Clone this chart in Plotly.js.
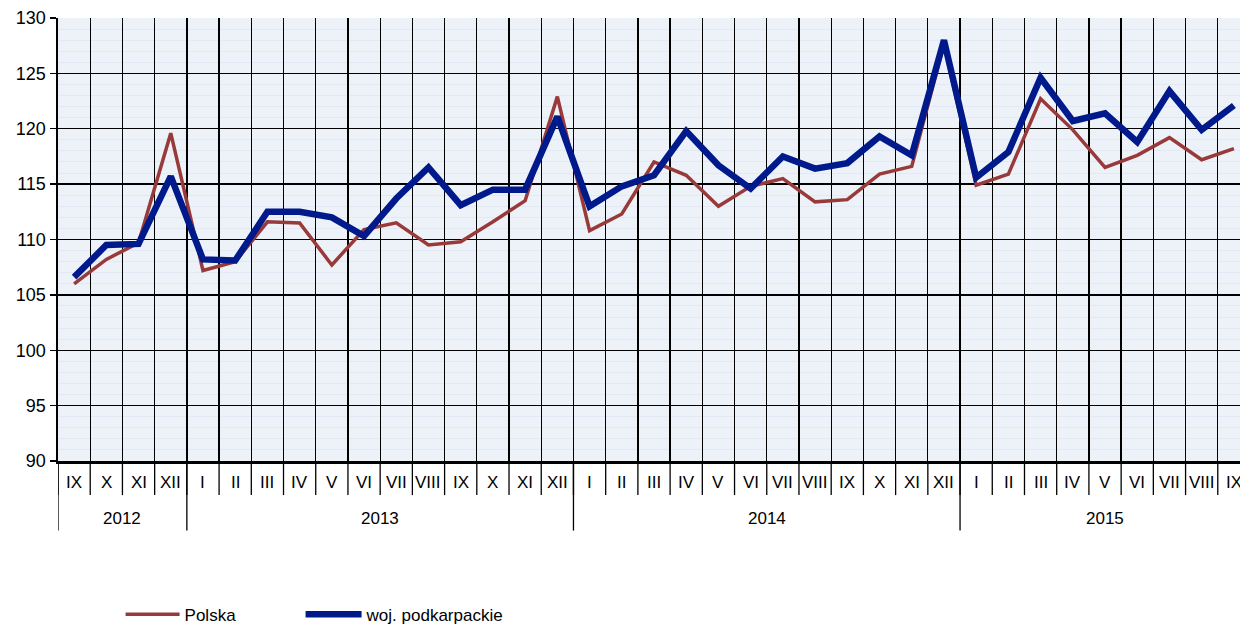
<!DOCTYPE html>
<html>
<head>
<meta charset="utf-8">
<script src="https://cdn.plot.ly/plotly-3.0.1.min.js"></script>
<style>
html,body{margin:0;padding:0;overflow:hidden;background:#fff;width:1240px;height:627px;}
#chart{width:1250px;height:650px;}
</style>
</head>
<body>
<div id="chart"></div>
<script>
const months = ["IX","X","XI","XII","I","II","III","IV","V","VI","VII","VIII","IX","X","XI","XII","I","II","III","IV","V","VI","VII","VIII","IX","X","XI","XII","I","II","III","IV","V","VI","VII","VIII","IX"];
const years = ["2012","2013","2014","2015"];
const yearStart = [0, 4, 16, 28];
const polska = [106.0,108.2,109.7,119.6,107.2,108.0,111.6,111.5,107.7,110.9,111.5,109.5,109.8,111.6,113.5,122.9,110.8,112.3,117.0,115.8,113.0,114.8,115.5,113.4,113.6,115.9,116.6,127.6,114.9,115.9,122.7,119.9,116.5,117.6,119.2,117.2,118.2];
const podkarpackie = [106.6,109.5,109.6,115.7,108.2,108.1,112.5,112.5,112.0,110.3,113.7,116.5,113.1,114.5,114.5,121.1,113.0,114.8,115.8,119.8,116.7,114.6,117.5,116.4,116.9,119.3,117.6,128.0,115.6,117.9,124.6,120.7,121.4,118.8,123.4,119.9,122.1];

const n = months.length;
const idx = months.map((m, i) => i);
const FONT = "Liberation Sans, Arial, sans-serif";

const traces = [
  {x: idx, y: polska, name: "Polska", type: "scatter", mode: "lines", legend: "legend",
   line: {color: "#983a3a", width: 3.5}},
  {x: idx, y: podkarpackie, name: "woj. podkarpackie", type: "scatter", mode: "lines", legend: "legend2",
   line: {color: "#001a8c", width: 6.5}}
];

const shapes = [];
const annotations = [];
// month separators
for (let i = 0; i <= n; i++) {
  shapes.push({type: "line", xref: "x", yref: "paper", x0: i - 0.5, x1: i - 0.5, y0: 0, y1: -0.077,
    line: {color: "#000", width: 1.3}});
}
// year separators and labels
for (let k = 0; k < years.length; k++) {
  const s = yearStart[k];
  const e = k + 1 < years.length ? yearStart[k + 1] : n;
  shapes.push({type: "line", xref: "x", yref: "paper", x0: s - 0.5, x1: s - 0.5, y0: 0, y1: -0.157,
    line: {color: "#000", width: 1.3}});
  annotations.push({xref: "x", yref: "paper", x: (s + e - 1) / 2, y: -0.129, text: years[k],
    showarrow: false, xanchor: "center", yanchor: "middle", font: {family: FONT, size: 17, color: "#000"}});
}
// month labels
months.forEach((m, i) => {
  annotations.push({xref: "x", yref: "paper", x: i, y: -0.048, text: m, showarrow: false,
    xanchor: "center", yanchor: "middle", font: {family: FONT, size: 17, color: "#000"}});
});

const legendBase = {orientation: "h", xanchor: "left", y: -0.347, yanchor: "middle",
  font: {family: FONT, size: 17, color: "#000"}, itemwidth: 54, bgcolor: "rgba(0,0,0,0)"};

const layout = {
  width: 1250, height: 650,
  margin: {l: 58, r: 0, t: 18, b: 189},
  paper_bgcolor: "#ffffff",
  plot_bgcolor: "#edf1f8",
  font: {family: FONT, size: 17, color: "#000"},
  showlegend: true,
  legend: Object.assign({}, legendBase, {x: 0.0525}),
  legend2: Object.assign({}, legendBase, {x: 0.2035, itemwidth: 56}),
  xaxis: {
    type: "linear", range: [-0.5, n - 0.5], tick0: -0.5, dtick: 1,
    showticklabels: false, ticks: "",
    showgrid: true, gridcolor: "#000", gridwidth: 1.3,
    showline: true, linecolor: "#000", linewidth: 2.5,
    zeroline: false, fixedrange: true
  },
  yaxis: {
    range: [90, 130], tick0: 90, dtick: 5,
    ticks: "outside", ticklen: 6, tickcolor: "#000", tickwidth: 1.3,
    showgrid: true, gridcolor: "#000", gridwidth: 1.3,
    minor: {dtick: 1, showgrid: true, gridcolor: "#e3e9f4", gridwidth: 1},
    showline: true, linecolor: "#000", linewidth: 2.5,
    zeroline: false, tickfont: {family: FONT, size: 18, color: "#000"},
    fixedrange: true
  },
  shapes: shapes,
  annotations: annotations
};

Plotly.newPlot("chart", traces, layout, {displayModeBar: false, staticPlot: true});
</script>
</body>
</html>
